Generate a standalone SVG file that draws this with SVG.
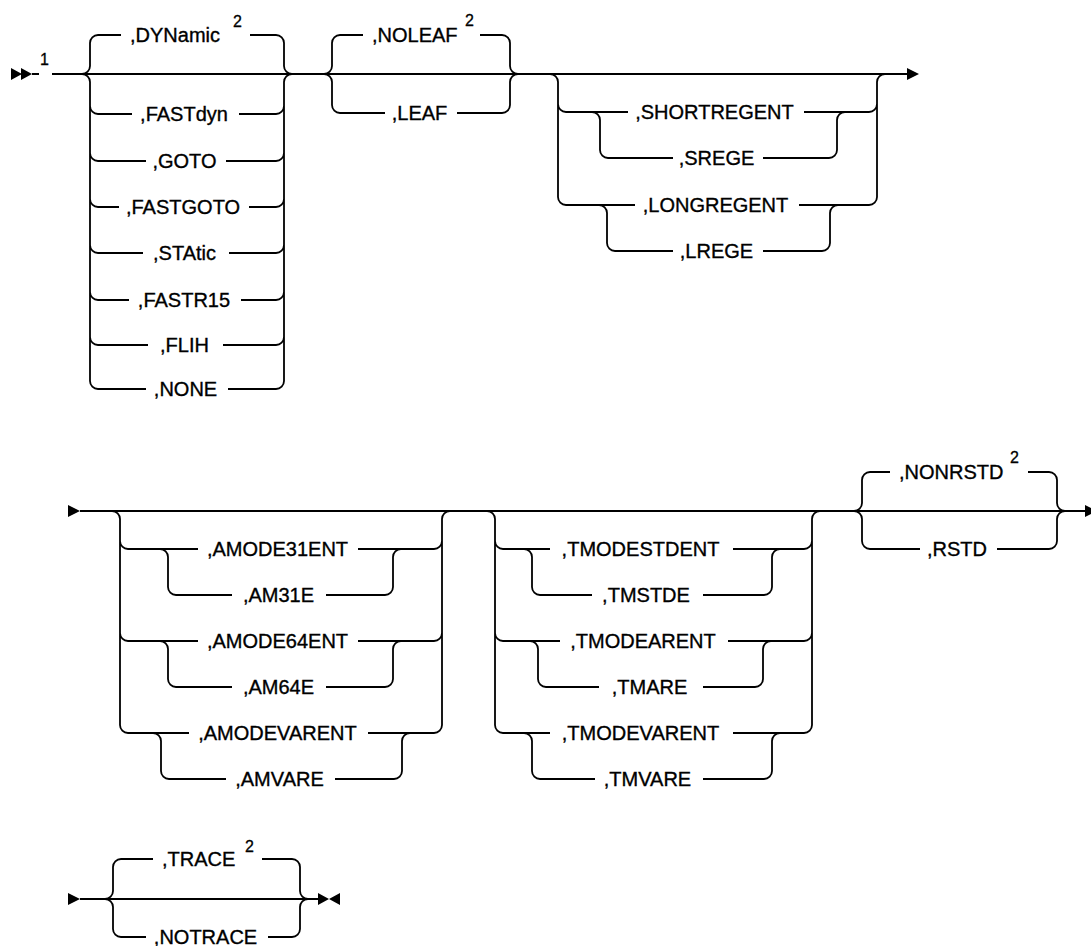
<svg xmlns="http://www.w3.org/2000/svg" width="1091" height="946" viewBox="0 0 1091 946">
<style>
.l{fill:none;stroke:#000;stroke-width:1.8;stroke-linecap:butt}
.t{font-family:"Liberation Sans",Arial,sans-serif;font-size:20px;fill:#000;stroke:#000;stroke-width:0.35}
.c{text-anchor:middle}
.s{font-family:"Liberation Sans",Arial,sans-serif;font-size:16px;fill:#000;stroke:#000;stroke-width:0.3}
.a{fill:#000;stroke:none}
</style>
<rect width="1091" height="946" fill="#fff"/>
<g id="connectors">
<path class="l" d="M32,74H39M52,74H907"/>
<path class="a" d="M11,68L11,80L22,74ZM21,68L21,80L32,74Z"/>
<path class="a" d="M907,68L907,80L919,74Z"/>
<path class="l" d="M80,511H1085"/>
<path class="a" d="M68,505L68,517L80,511Z"/>
<path class="a" d="M1085,505L1085,517L1097,511Z"/>
<path class="l" d="M80,899H318"/>
<path class="a" d="M68,893L68,905L80,899Z"/>
<path class="a" d="M318,893L318,905L329,899ZM340,893L340,905L329,899Z"/>
</g>
<g id="ref1"><text class="s" x="40" y="65">1</text></g>
<g id="g-dynamic">
<path class="l" d="M82,74A8,8 0 0 0 90,66V43A8,8 0 0 1 98,35M82,74A8,8 0 0 1 90,82V381A8,8 0 0 0 98,389M90,106A8,8 0 0 0 98,114M90,153A8,8 0 0 0 98,161M90,199A8,8 0 0 0 98,207M90,245A8,8 0 0 0 98,253M90,292A8,8 0 0 0 98,300M90,337A8,8 0 0 0 98,345"/>
<path class="l" d="M276,35A8,8 0 0 1 284,43V66A8,8 0 0 0 292,74M276,389A8,8 0 0 0 284,381V82A8,8 0 0 1 292,74M276,114A8,8 0 0 0 284,106M276,161A8,8 0 0 0 284,153M276,207A8,8 0 0 0 284,199M276,253A8,8 0 0 0 284,245M276,300A8,8 0 0 0 284,292M276,345A8,8 0 0 0 284,337"/>
<path class="l" d="M98,35H121M250,35H276M98,114H132M239,114H276M98,161H146M226,161H276M98,207H119M249,207H276M98,253H143M229,253H276M98,300H129M241,300H276M98,345H148M223,345H276M98,389H146M228,389H276"/>
<text class="t" x="130" y="42">,DYNamic</text>
<text class="s" x="233" y="27">2</text>
<text class="t c" x="184" y="121">,FASTdyn</text>
<text class="t c" x="184.5" y="168">,GOTO</text>
<text class="t c" x="183" y="214">,FASTGOTO</text>
<text class="t c" x="184.5" y="260">,STAtic</text>
<text class="t c" x="184" y="307">,FASTR15</text>
<text class="t c" x="184.5" y="352">,FLIH</text>
<text class="t c" x="185.5" y="396">,NONE</text>
</g>
<g id="g-leaf">
<path class="l" d="M324,74A8,8 0 0 0 332,66V43A8,8 0 0 1 340,35M324,74A8,8 0 0 1 332,82V105A8,8 0 0 0 340,113M502,35A8,8 0 0 1 510,43V66A8,8 0 0 0 518,74M502,113A8,8 0 0 0 510,105V82A8,8 0 0 1 518,74"/>
<path class="l" d="M340,35H363M480,35H502M340,113H385M457,113H502"/>
<text class="t" x="372" y="42">,NOLEAF</text>
<text class="s" x="465" y="26">2</text>
<text class="t c" x="419.5" y="120">,LEAF</text>
</g>
<g id="g-regent">
<path class="l" d="M550,74A8,8 0 0 1 558,82V197A8,8 0 0 0 566,205M558,104A8,8 0 0 0 566,112M869,205A8,8 0 0 0 877,197V82A8,8 0 0 1 885,74M869,112A8,8 0 0 0 877,104"/>
<path class="l" d="M592,112A8,8 0 0 1 600,120V150A8,8 0 0 0 608,158M829,158A8,8 0 0 0 837,150V120A8,8 0 0 1 845,112M599,205A8,8 0 0 1 607,213V243A8,8 0 0 0 615,251M822,251A8,8 0 0 0 830,243V213A8,8 0 0 1 838,205"/>
<path class="l" d="M566,112H628M804,112H869M608,158H673M763,158H829M566,205H635M799,205H869M615,251H673M763,251H822"/>
<text class="t c" x="714.5" y="119">,SHORTREGENT</text>
<text class="t c" x="716.5" y="165">,SREGE</text>
<text class="t c" x="715.5" y="212">,LONGREGENT</text>
<text class="t c" x="716.5" y="258">,LREGE</text>
</g>
<g id="g-amode">
<path class="l" d="M112,511A8,8 0 0 1 120,519V725A8,8 0 0 0 128,733M120,541A8,8 0 0 0 128,549M120,633A8,8 0 0 0 128,641M434,733A8,8 0 0 0 442,725V519A8,8 0 0 1 450,511M434,549A8,8 0 0 0 442,541M434,641A8,8 0 0 0 442,633"/>
<path class="l" d="M160,549A8,8 0 0 1 168,557V587A8,8 0 0 0 176,595M385,595A8,8 0 0 0 393,587V557A8,8 0 0 1 401,549M160,641A8,8 0 0 1 168,649V679A8,8 0 0 0 176,687M385,687A8,8 0 0 0 393,679V649A8,8 0 0 1 401,641M153,733A8,8 0 0 1 161,741V771A8,8 0 0 0 169,779M394,779A8,8 0 0 0 402,771V741A8,8 0 0 1 410,733"/>
<path class="l" d="M128,549H198M358,549H434M176,595H232M326,595H385M128,641H198M358,641H434M176,687H232M326,687H385M128,733H189M368,733H434M169,779H226M335,779H394"/>
<text class="t c" x="277.5" y="556">,AMODE31ENT</text>
<text class="t c" x="278.5" y="602">,AM31E</text>
<text class="t c" x="277.5" y="648">,AMODE64ENT</text>
<text class="t c" x="278.5" y="694">,AM64E</text>
<text class="t c" x="277.5" y="740">,AMODEVARENT</text>
<text class="t c" x="279.5" y="786">,AMVARE</text>
</g>
<g id="g-tmode">
<path class="l" d="M487,511A8,8 0 0 1 495,519V725A8,8 0 0 0 503,733M495,541A8,8 0 0 0 503,549M495,633A8,8 0 0 0 503,641M804,733A8,8 0 0 0 812,725V519A8,8 0 0 1 820,511M804,549A8,8 0 0 0 812,541M804,641A8,8 0 0 0 812,633"/>
<path class="l" d="M524,549A8,8 0 0 1 532,557V587A8,8 0 0 0 540,595M764,595A8,8 0 0 0 772,587V557A8,8 0 0 1 780,549M530,641A8,8 0 0 1 538,649V679A8,8 0 0 0 546,687M755,687A8,8 0 0 0 763,679V649A8,8 0 0 1 771,641M524,733A8,8 0 0 1 532,741V771A8,8 0 0 0 540,779M764,779A8,8 0 0 0 772,771V741A8,8 0 0 1 780,733"/>
<path class="l" d="M503,549H550M733,549H804M540,595H592M703,595H764M503,641H560M728,641H804M546,687H599M703,687H755M503,733H550M733,733H804M540,779H595M703,779H764"/>
<text class="t c" x="640.5" y="556">,TMODESTDENT</text>
<text class="t c" x="646" y="602">,TMSTDE</text>
<text class="t c" x="643" y="648">,TMODEARENT</text>
<text class="t c" x="649.5" y="694">,TMARE</text>
<text class="t c" x="640.5" y="740">,TMODEVARENT</text>
<text class="t c" x="647.5" y="786">,TMVARE</text>
</g>
<g id="g-rstd">
<path class="l" d="M854,511A8,8 0 0 0 862,503V480A8,8 0 0 1 870,472M854,511A8,8 0 0 1 862,519V541A8,8 0 0 0 870,549M1049,472A8,8 0 0 1 1057,480V503A8,8 0 0 0 1065,511M1049,549A8,8 0 0 0 1057,541V519A8,8 0 0 1 1065,511"/>
<path class="l" d="M870,472H890M1028,472H1049M870,549H920M997,549H1049"/>
<text class="t" x="899" y="479">,NONRSTD</text>
<text class="s" x="1010" y="463">2</text>
<text class="t c" x="957" y="556">,RSTD</text>
</g>
<g id="g-trace">
<path class="l" d="M105,899A8,8 0 0 0 113,891V867A8,8 0 0 1 121,859M105,899A8,8 0 0 1 113,907V929A8,8 0 0 0 121,937M292,859A8,8 0 0 1 300,867V891A8,8 0 0 0 308,899M292,937A8,8 0 0 0 300,929V907A8,8 0 0 1 308,899"/>
<path class="l" d="M121,859H153M262,859H292M121,937H146M268,937H292"/>
<text class="t" x="162" y="866">,TRACE</text>
<text class="s" x="245" y="852">2</text>
<text class="t c" x="205.5" y="944">,NOTRACE</text>
</g>
</svg>
